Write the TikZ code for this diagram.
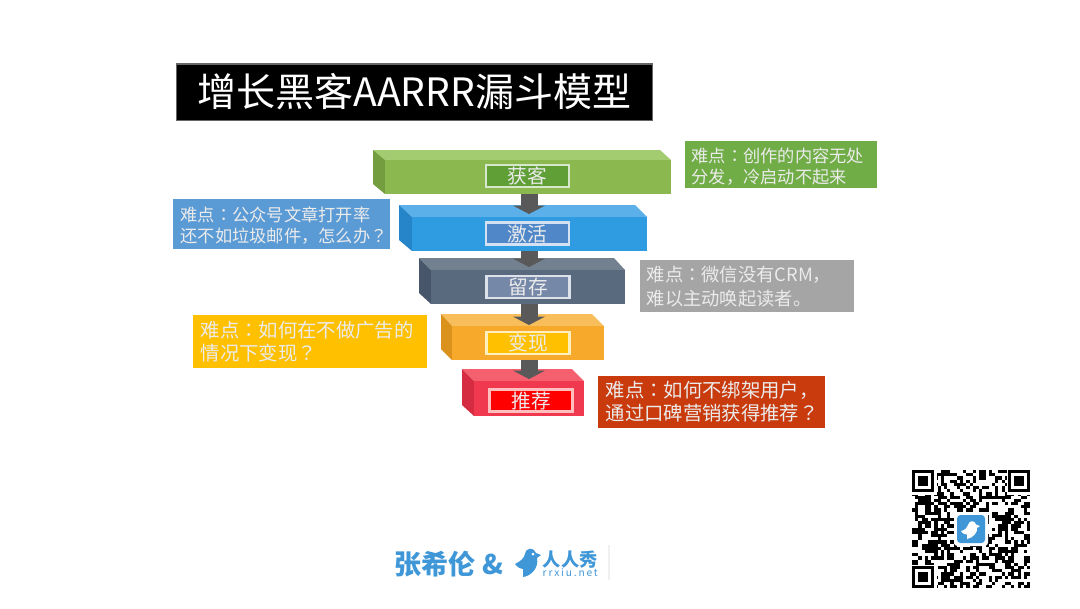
\documentclass[tikz,border=0pt]{standalone}
\usepackage{fontspec}
\setmainfont{Noto Sans CJK SC}
\newfontfamily\twfont{Noto Sans CJK TC}
\newcommand{\midmark}[1]{{\twfont #1}}
\usetikzlibrary{arrows.meta}

\definecolor{notegreen}{HTML}{70AD47}
\definecolor{noteblue}{HTML}{5B9BD5}
\definecolor{notegray}{HTML}{A5A5A5}
\definecolor{noteyellow}{HTML}{FFC000}
\definecolor{notered}{HTML}{C93A0C}
\definecolor{arrowgray}{HTML}{595959}
\definecolor{logoblue}{HTML}{3F97D8}

\tikzset{
    note/.style={text=white!92!black, align=left, inner xsep=0.07cm, inner ysep=0pt},
    tag/.style={draw=#1!25!white, line width=0.6pt, minimum width=0.83cm, minimum height=0.22cm, inner sep=0pt,
        text=white!92!black, font=\fontsize{5.6}{6}\selectfont},
    flow/.style={arrowgray, line width=0.17cm, -{Triangle[width=0.32cm,length=0.085cm]}},
}

\begin{document}
\begin{tikzpicture}[x=0.01cm,y=-0.01cm]

\useasboundingbox (0,0) rectangle (1080,608);

% title
\node [fill=black, draw=black!60, line width=0.3pt, minimum width=4.75cm, minimum height=0.56cm, inner sep=0pt,
    text=white, font=\fontsize{11.1}{12}\selectfont] (title) at (414.5,92) {增长黑客AARRR漏斗模型};

% funnel layers: back left, back right, front left, front right, top, front top, bottom, left bottom, colours
\foreach \bl/\br/\fl/\fr/\ty/\fy/\by/\ly/\ctop/\cfront/\cleft in {
    373/660/385/671/150/160/194/184/A3CC70/8BB950/749D40,
    399/635/412/647/205/217/251/240/5BB0EA/2F9BE0/2585C8,
    419/614/431/625/258/270/304/293/728090/596A7E/47566A,
    441/592/452/604/314/326/360/349/F9BE5C/F6A92B/DB921D,
    462/572/474/584/369/381/416/405/F5606F/F0384F/D52C42} {
    \definecolor{ctop}{HTML}{\ctop}
    \definecolor{cfront}{HTML}{\cfront}
    \definecolor{cleft}{HTML}{\cleft}
    \fill [ctop] (\bl,\ty) -- (\br,\ty) -- (\fr,\fy) -- (\fl,\fy) -- cycle;
    \fill [cleft] (\bl,\ty) -- (\fl,\fy) -- (\fl,\by) -- (\bl,\ly) -- cycle;
    \fill [cfront] (\fl,\fy) rectangle (\fr,\by);
}

% arrows between the layers
\coordinate (a1) at (529,194);
\coordinate (b1) at (529,214);
\coordinate (a2) at (529,251);
\coordinate (b2) at (529,267);
\coordinate (a3) at (529,304);
\coordinate (b3) at (529,325);
\coordinate (a4) at (529,360);
\coordinate (b4) at (529,379);
\foreach \i in {1,...,4} {
    \draw [flow] (a\i) -- (b\i);
}

% tags on the layers
\definecolor{tagA}{HTML}{5F9F35}
\definecolor{tagB}{HTML}{4F87C9}
\definecolor{tagC}{HTML}{7688A8}
\definecolor{tagD}{HTML}{FFC000}
\definecolor{tagE}{HTML}{FF0000}
\node [tag=tagA, fill=tagA] (huoke) at (527.5,176) {获客};
\node [tag=tagB, fill=tagB] (jihuo) at (527.5,233.5) {激活};
\node [tag=tagC, fill=tagC] (liucun) at (528,287) {留存};
\node [tag=tagD, fill=tagD] (bianxian) at (528,343) {变现};
\node [tag=tagE, fill=tagE] (tuijian) at (531,400.5) {推荐};

% notes
\fill [notegreen] (685,141) rectangle (877,188);
\fill [noteblue] (173,199) rectangle (390,249);
\fill [notegray] (640,260) rectangle (854,312);
\fill [noteyellow] (193,315) rectangle (427,368);
\fill [notered] (598,376) rectangle (825,428);
\node [note, anchor=west, font=\fontsize{4.9}{6}\selectfont] (notehuoke) at (684,166.5) {难点\midmark{：}创作的内容无处\\分发，冷启动不起来};
\node [note, anchor=west, font=\fontsize{4.9}{6.1}\selectfont] (notejihuo) at (173,225.5) {难点\midmark{：}公众号文章打开率\\还不如垃圾邮件，怎么办\midmark{？}};
\node [note, anchor=west, font=\fontsize{5.2}{6.7}\selectfont] (noteliucun) at (639,286.5) {难点\midmark{：}微信没有CRM，\\难以主动唤起读者。};
\node [note, anchor=west, font=\fontsize{5.5}{6.6}\selectfont] (notebianxian) at (193,341.5) {难点\midmark{：}如何在不做广告的\\情况下变现\midmark{？}};
\node [note, anchor=west, font=\fontsize{5.5}{6.6}\selectfont] (notetuijian) at (598,402) {难点\midmark{：}如何不绑架用户，\\通过口碑营销获得推荐\midmark{？}};

% footer
\node [text=logoblue, anchor=west, inner sep=0pt, font=\fontsize{7.7}{8}\selectfont\bfseries] (names) at (394,564) {张希伦 \&};
\fill [logoblue] (541,555) -- (536,553) .. controls (534,547) and (526,547) .. (525,554)
    .. controls (524,558) and (521,561) .. (515,564) .. controls (518,568) and (521,569) .. (523,569)
    .. controls (523,572) and (523,574) .. (523,577) .. controls (531,576) and (539,568) .. (537,558) -- cycle;
\fill [white] (533,554) circle (1.5);
\node [text=logoblue, anchor=west, inner sep=0pt, font=\fontsize{5.2}{6}\selectfont\bfseries] (brand) at (542,560) {人人秀};
\node [text=logoblue, anchor=west, inner sep=0pt, font=\fontsize{2.9}{3}\selectfont\addfontfeatures{LetterSpace=18}] (site) at (542,573) {rrxiu.net};
\draw [black!6, line width=0.3pt] (609,545) -- (609,580);

% qr code
\pgfmathsetseed{11}
\foreach \r in {0,...,36} {
    \foreach \c in {0,...,36} {
        \pgfmathrandominteger{\m}{0}{1}
        \ifnum\m=1
            \fill (912+\c*3.2,470+\r*3.2) rectangle +(3.2,3.2);
        \fi
    }
}
\foreach \x/\y in {912/470, 1008/470, 912/566} {
    \fill [white] (\x-1,\y-1) rectangle +(26,26);
    \fill (\x,\y) rectangle +(22.4,22.4);
    \fill [white] (\x+3.2,\y+3.2) rectangle +(16,16);
    \fill (\x+6.4,\y+6.4) rectangle +(9.6,9.6);
}
\fill [white, rounded corners=1pt] (954,512) rectangle (988,546);
\fill [logoblue, rounded corners=1pt] (957,515) rectangle (985,543);
\fill [white] (980,526) -- (976,524.5) .. controls (975,520) and (969,520) .. (968,525)
    .. controls (967,528) and (965,530) .. (961,531) .. controls (963,534) and (965,534.5) .. (967,534.5)
    -- (967,539) .. controls (973,538) and (978,532) .. (977,528) -- cycle;

\end{tikzpicture}
\end{document}
